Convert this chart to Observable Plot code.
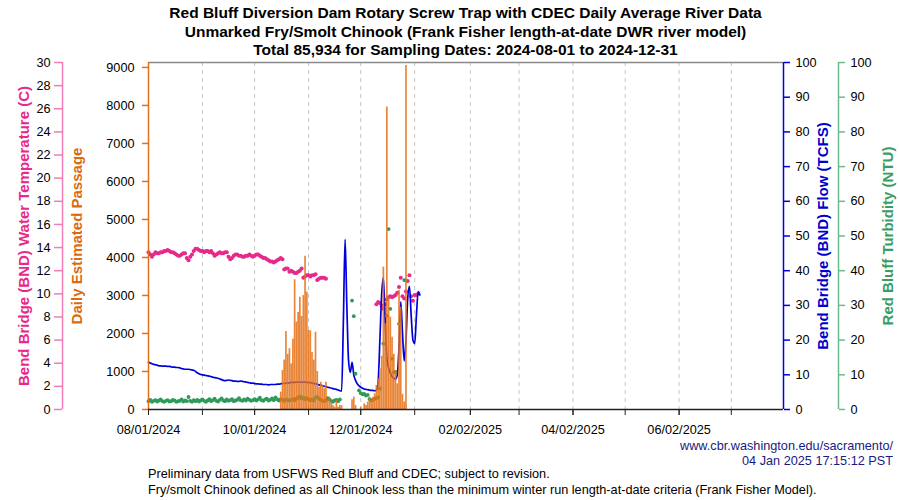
<!DOCTYPE html>
<html><head><meta charset="utf-8">
<script src="https://cdn.jsdelivr.net/npm/d3@7"></script>
<script src="https://cdn.jsdelivr.net/npm/@observablehq/plot@0.6"></script>
<style>
body{margin:0;background:#fff;font-family:"Liberation Sans",Arial,Helvetica,sans-serif;}
#wrap{position:relative;width:900px;height:500px;overflow:hidden;background:#fff;}
#wrap svg{position:absolute;left:0;top:0;}
.t{position:absolute;white-space:nowrap;color:#000;}
</style></head><body><div id="wrap">
<div class="t" id="title" style="left:108px;width:715px;text-align:center;font-weight:bold;font-size:15.5px;line-height:18.5px;top:4px;"></div>
<div class="t" id="credit" style="right:7px;text-align:right;font-size:12.7px;line-height:15px;top:439px;color:#1a1a80;"></div>
<div class="t" id="notes" style="left:148px;font-size:12.7px;line-height:16px;top:466px;"></div>
</div>
<script>
// ---------------- data ----------------
const titleLines = [
  "Red Bluff Diversion Dam Rotary Screw Trap with CDEC Daily Average River Data",
  "Unmarked Fry/Smolt Chinook (Frank Fisher length-at-date DWR river model)",
  "Total 85,934 for Sampling Dates: 2024-08-01 to 2024-12-31"
];
const creditLines = ["www.cbr.washington.edu/sacramento/", "04 Jan 2025 17:15:12 PST"];
const noteLines = [
  "Preliminary data from USFWS Red Bluff and CDEC; subject to revision.",
  "Fry/smolt Chinook defined as all Chinook less than the minimum winter run length-at-date criteria (Frank Fisher Model)."
];
const axisTitles = {
  temp: "Bend Bridge (BND) Water Temperature (C)",
  passage: "Daily Estimated Passage",
  flow: "Bend Bridge (BND) Flow (TCFS)",
  turb: "Red Bluff Turbidity (NTU)"
};

const xDomainDates = ["2024-08-01", "2025-08-01"];
const tickDates = ["2024-08-01","2024-10-01","2024-12-01","2025-02-02","2025-04-02","2025-06-02"];
const tickLabels = ["08/01/2024","10/01/2024","12/01/2024","02/02/2025","04/02/2025","06/02/2025"];
const gridDates = ["2024-09-01","2024-10-01","2024-11-01","2024-12-01","2025-01-01","2025-02-02","2025-03-02","2025-04-02","2025-05-02","2025-06-02","2025-07-02"];

const tempTicks = [0,2,4,6,8,10,12,14,16,18,20,22,24,26,28,30];
const passageTicks = [0,1000,2000,3000,4000,5000,6000,7000,8000,9000];
const flowTicks = [0,10,20,30,40,50,60,70,80,90,100];
const turbTicks = [0,10,20,30,40,50,60,70,80,90,100];
const tempDomain = [0, 30];
const passageDomain = [0, 9130];
const flowDomain = [0, 100];
const turbDomain = [0, 100];

// daily river data starting 2024-08-01
const riverStart = "2024-08-01";
const tempC = [
  13.6,13.4,13.2,13.4,13.6,13.5,13.5,13.6,13.6,13.7,
  13.7,13.8,13.7,13.6,13.6,13.5,13.4,13.3,13.3,13.4,
  13.5,13.5,13.1,12.9,13.2,13.4,13.7,13.9,13.9,13.8,
  13.7,13.7,13.6,13.7,13.7,13.6,13.7,13.5,13.3,13.4,
  13.5,13.6,13.5,13.5,13.6,13.6,13.2,13.0,13.1,13.3,
  13.4,13.4,13.3,13.3,13.2,13.2,13.3,13.3,13.4,13.3,
  13.2,13.3,13.4,13.4,13.3,13.2,13.1,13.1,13.0,12.9,
  12.8,12.8,12.7,12.8,12.9,13.0,13.1,13.0,12.1,12.2,
  12.2,11.9,12.0,11.9,11.8,11.8,11.9,12.0,12.2,11.4,
  11.5,11.6,11.6,11.5,11.6,11.6,11.7,11.2,11.3,11.4,
  11.4,11.4,11.3,
  null,null,null,null,null,null,null,null,null,null,
  null,null,null,null,null,null,null,null,null,null,
  null,null,null,null,null,null,null,null,
  9.1,9.3,9.2,9.0,8.7,9.1,9.5,9.7,9.8,9.7,
  9.8,9.9,10.1,10.6,11.4,9.8,9.6,10.2,11.1,11.6,
  9.8,9.4,9.9,9.9,10.0
];
const flowKcfs = [
  13.6,13.4,13.2,13.0,12.9,12.8,12.6,12.6,12.5,12.5,
  12.5,12.4,12.4,12.3,12.2,12.2,12.1,12.1,12.0,11.8,
  11.7,11.6,11.6,11.6,11.5,11.4,11.3,11.0,10.6,10.3,
  10.1,10.0,9.9,9.8,9.7,9.6,9.5,9.3,9.2,9.1,
  9.0,8.8,8.6,8.4,8.3,8.4,8.5,8.4,8.3,8.2,
  8.2,8.1,8.1,8.2,8.1,8.0,7.9,7.8,7.7,7.6,
  7.6,7.5,7.4,7.4,7.3,7.3,7.2,7.2,7.2,7.1,
  7.2,7.2,7.2,7.2,7.3,7.3,7.4,7.5,7.5,7.6,
  7.7,7.7,7.8,7.8,7.8,7.9,7.9,7.9,7.9,7.9,
  7.9,7.8,7.8,7.7,7.6,7.5,7.4,7.3,7.1,7.0,
  6.9,6.7,6.6,6.4,6.3,6.2,6.0,5.9,5.8,5.6,
  5.4,5.3,25,49,30,14,10.7,13.6,10,8.4,
  7.4,6.8,6.4,6.1,5.9,5.8,5.7,5.6,5.5,5.5,
  5.4,5.6,8,20,33,38,26,15,12,10.5,
  9.5,9.0,8.8,10,18,31,22,14,20,32,
  35.5,27,20,19,27,34,33
];
const turbidityNtu = [
  2.4,2.8,2.2,2.5,2.7,2.3,2.6,2.9,2.4,2.2,
  2.5,2.7,2.3,2.4,2.8,2.6,2.2,2.4,2.5,2.9,
  2.3,2.6,2.4,3.6,2.5,2.2,2.7,2.4,2.8,2.3,
  2.6,2.9,2.5,2.2,2.6,3.0,2.4,2.7,3.1,2.5,
  2.3,2.8,3.2,2.6,2.4,2.9,2.5,2.7,3.0,2.4,
  2.6,2.8,3.3,2.7,2.5,2.9,2.6,3.1,2.8,2.5,
  2.7,3.0,2.6,2.9,3.4,2.7,2.5,2.9,3.1,2.6,
  2.8,3.2,2.7,3.5,2.9,2.6,3.0,2.8,2.5,2.9,
  2.7,2.6,2.8,3.0,2.7,3.1,3.4,3.8,3.2,3.5,
  2.9,3.3,3.0,2.7,2.9,2.6,3.4,3.6,3.1,2.8,
  2.5,2.4,2.7,3.3,2.9,2.5,2.2,2.6,2.8,2.4,
  2.9,
  null,null,null,null,null,null,
  31.4,26.9,10.3,null,5.5,4.7,4.4,4.5,4.0,4.2,
  3.0,2.6,2.8,3.1,3.3,3.5,6.0,null,19.0,null,
  27.0,52.0,29.0,14.6,10.7,10.8,null,24.7,null,null,
  37.3,37.2
];

// daily estimated passage starting 2024-10-16 through 2024-12-31
const passageStart = "2024-10-16";
const passage = [
  455,1026,1300,2053,1450,1600,1200,1850,3412,2300,
  2550,2956,2450,3000,4030,3088,2080,2070,1500,1300,
  2035,1000,588,719,632,544,719,237,325,193,
  105,61,237,61,105,105,
  0,0,0,0,0,
  254,325,105,0,0,61,0,149,105,193,325,237,
  325,412,632,807,1070,1400,3746,2254,7956,2956,
  2430,1903,1450,1026,675,3132,2692,400,200,9052,
  0,0,0,0
];

// ---------------- build ----------------
const C = {
  pink: "#E7298A", pinkAxis: "#F27DB6",
  orange: "#E6741C", orangeText: "#DD6A0E", orangeAxis: "#E0701A",
  blue: "#0000DD", blueText: "#0000CC",
  green: "#2E9B5C", greenAxis: "#6DBB8A", greenText: "#3A9E62"
};
const toRows = (start, arr) => arr.map((v, i) => ({date: d3.utcDay.offset(new Date(start), i), value: v}));
const tempRows = toRows(riverStart, tempC).filter(d => d.value != null);
const flowRows = toRows(riverStart, flowKcfs);
const turbRows = toRows(riverStart, turbidityNtu).filter(d => d.value != null);
const passRows = toRows(passageStart, passage);
const xDom = xDomainDates.map(d => new Date(d));
const labelByTime = new Map(tickDates.map((d, i) => [+new Date(d), tickLabels[i]]));
const plain = d => String(d);

const common = {
  width: 900, height: 500,
  marginTop: 62, marginBottom: 91, marginLeft: 148, marginRight: 117,
  style: {background: "transparent", fontSize: "12.7px", fontFamily: "'Liberation Sans', Arial, Helvetica, sans-serif", color: "#000", overflow: "visible"}
};
const titleText = (txt, anchor, dx, fill) => Plot.text([txt], {
  text: d => d, frameAnchor: anchor, textAnchor: "middle", lineAnchor: "middle", dx, rotate: -90, fill, fontWeight: "bold", fontSize: 15
});

const tempPlot = Plot.plot({
  ...common,
  x: {type: "utc", domain: xDom, axis: null},
  y: {domain: tempDomain},
  marks: [
    Plot.gridX(gridDates.map(d => new Date(d)), {stroke: "#c4c4c4", strokeOpacity: 1, strokeDasharray: "4,4"}),
    Plot.ruleY([tempDomain[1]], {stroke: "#8a8a8a", strokeWidth: 1.5}),
    Plot.ruleX([xDom[0]], {stroke: C.pinkAxis, strokeWidth: 1.5, dx: -86}),
    Plot.axisY(tempTicks, {anchor: "left", dx: -86, tickSize: 8, tickPadding: 4, stroke: C.pinkAxis, strokeWidth: 1.5, fill: "#000", tickFormat: plain, label: null}),
    titleText(axisTitles.temp, "left", -124, C.pink),
    Plot.dot(tempRows, {x: "date", y: "value", r: 2, fill: C.pink, stroke: "none"})
  ]
});

const flowPlot = Plot.plot({
  ...common,
  x: {type: "utc", domain: xDom, axis: null},
  y: {domain: flowDomain},
  marks: [
    Plot.ruleX([xDom[1]], {stroke: C.blue, strokeWidth: 1.5}),
    Plot.axisY(flowTicks, {anchor: "right", tickSize: 6, tickPadding: 6, stroke: C.blue, strokeWidth: 1.5, fill: "#000", tickFormat: plain, label: null}),
    titleText(axisTitles.flow, "right", 40, C.blueText),
    Plot.line(flowRows, {x: "date", y: "value", stroke: C.blue, strokeWidth: 1.7, curve: "monotone-x"})
  ]
});

const turbPlot = Plot.plot({
  ...common,
  x: {type: "utc", domain: xDom, axis: null},
  y: {domain: turbDomain},
  marks: [
    Plot.ruleX([xDom[1]], {stroke: C.greenAxis, strokeWidth: 1.5, dx: 55}),
    Plot.axisY(turbTicks, {anchor: "right", dx: 55, tickSize: 6, tickPadding: 6, stroke: C.greenAxis, strokeWidth: 1.5, fill: "#000", tickFormat: plain, label: null}),
    titleText(axisTitles.turb, "right", 105, C.greenText),
    Plot.dot(turbRows, {x: "date", y: "value", r: 1.9, fill: C.green, stroke: "none"})
  ]
});

const passPlot = Plot.plot({
  ...common,
  x: {type: "utc", domain: xDom},
  y: {domain: passageDomain},
  marks: [
    Plot.ruleX(passRows, {x: "date", y: "value", stroke: C.orange, strokeWidth: 1.7, strokeOpacity: 0.88}),
    Plot.ruleX([xDom[0]], {stroke: C.orangeAxis, strokeWidth: 1.5}),
    Plot.axisY(passageTicks, {anchor: "left", tickSize: 6, tickPadding: 8, stroke: C.orangeAxis, strokeWidth: 1.5, fill: "#000", tickFormat: plain, label: null}),
    titleText(axisTitles.passage, "left", -71, C.orangeText),
    Plot.ruleY([passageDomain[0]], {stroke: "#222", strokeWidth: 1.5}),
    Plot.axisX(gridDates.map(d => new Date(d)), {anchor: "bottom", tickSize: 6, tickFormat: () => "", stroke: "#222", label: null}),
    Plot.axisX(tickDates.map(d => new Date(d)), {anchor: "bottom", tickSize: 6, tickPadding: 9, stroke: "#222", fill: "#000", tickFormat: d => labelByTime.get(+d), label: null})
  ]
});

const wrap = document.getElementById("wrap");
[tempPlot, flowPlot, turbPlot, passPlot].forEach(p => wrap.appendChild(p));
document.getElementById("title").innerHTML = titleLines.join("<br>");
document.getElementById("credit").innerHTML = creditLines.join("<br>");
document.getElementById("notes").innerHTML = noteLines.join("<br>");
</script>
</body></html>
